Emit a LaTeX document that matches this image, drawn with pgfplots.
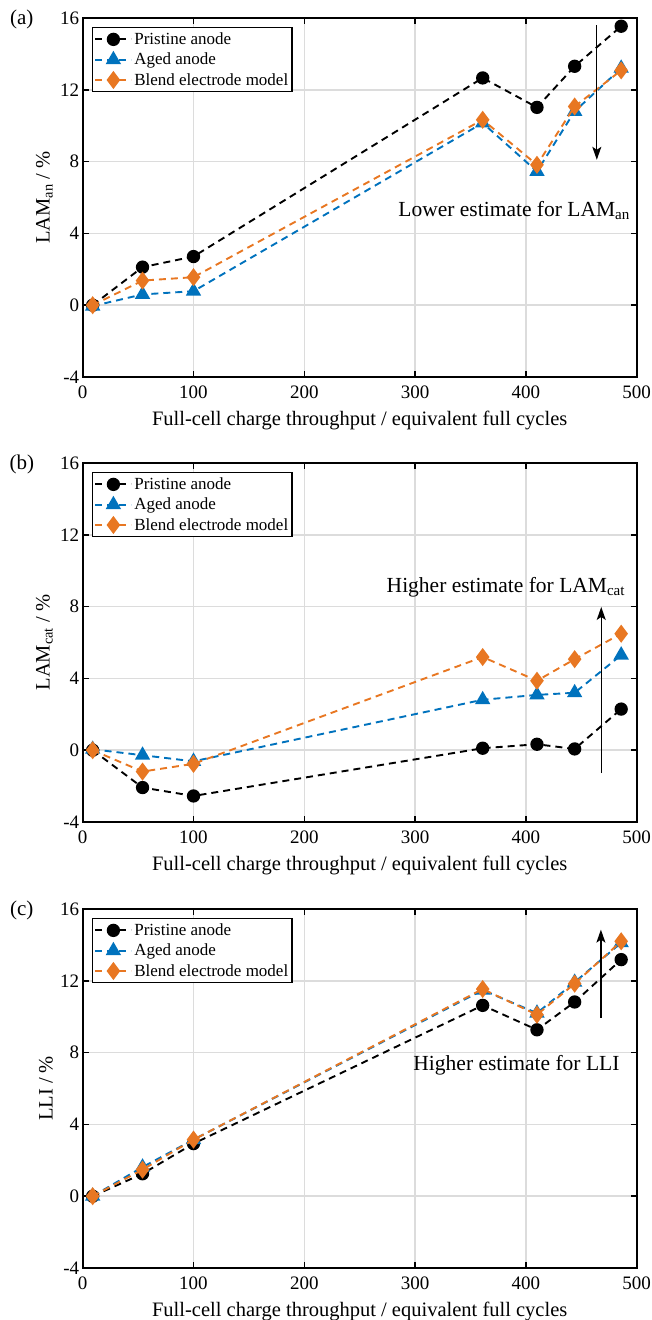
\documentclass[border=0pt]{standalone}
\usepackage{fontspec}
\setmainfont{Liberation Serif}
\usepackage{pgfplots}
\pgfplotsset{compat=1.18}
\usetikzlibrary{arrows.meta}

\definecolor{cblue}{RGB}{0,114,189}
\definecolor{corange}{RGB}{232,119,34}
\definecolor{gridgray}{RGB}{220,220,220}

\pgfplotsset{
 myaxis/.style={
  scale only axis, width=554pt, height=359pt,
  xmin=0,xmax=500,ymin=-4,ymax=16,
  xtick={0,100,...,500}, ytick={-4,0,4,8,12,16},
  tick align=inside, major tick length=6pt,
  every tick/.style={black, line width=1.5pt},
  axis line style={line width=2pt},
  grid=major, major grid style={gridgray, line width=1.5pt},
  clip mode=individual,
  /pgf/number format/assume math mode=true,
  tick label style={font=\fontsize{19}{22}\selectfont},
  xlabel={Full-cell charge throughput / equivalent full cycles},
  every axis x label/.style={at={(axis description cs:0.5,-0.12)}, anchor=center, font=\fontsize{20.5}{24}\selectfont},
  every axis y label/.style={at={(axis description cs:-0.0536,0.5)}, rotate=90, anchor=south, inner sep=0pt, font=\fontsize{20.5}{24}\selectfont},
  xticklabel style={yshift=-5pt},
  legend style={at={(0,1)}, anchor=north west, xshift=9pt, yshift=-9pt, draw=black, line width=1.5pt,
    font=\fontsize{17}{20}\selectfont, cells={anchor=west}, inner xsep=2pt, inner ysep=3pt, row sep=3pt},
  legend image code/.code={\draw[mark repeat=2,mark phase=2] plot coordinates {(0pt,0pt) (18pt,0pt) (36pt,0pt)};},
 },
 sP/.style={black, line width=1.9pt, dash pattern=on 7pt off 5pt, mark=*, mark size=5.7pt, mark options={solid, fill=black}},
 sA/.style={cblue, line width=1.9pt, dash pattern=on 7pt off 5pt, mark=triangle*, mark size=7pt, mark options={solid, fill=cblue}},
 sB/.style={corange, line width=1.9pt, dash pattern=on 7pt off 5pt, mark=diamond*, mark size=7.5pt, mark options={solid, fill=corange}},
}

\begin{document}
\begin{tikzpicture}
\path[use as bounding box] (0,0) rectangle (651pt,1320pt);

% (a)
\begin{axis}[myaxis, at={(82.7pt,943pt)}, anchor=south west, ylabel={LAM\textsubscript{an} / \%}]
\addplot[sP] coordinates {(9,0) (54,2.12) (100,2.71) (361,12.66) (410,11.02) (444,13.31) (486,15.54)};
\addplot[sA] coordinates {(9,-0.05) (54,0.6) (100,0.78) (361,10.15) (410,7.45) (444,10.8) (486,13.2)};
\addplot[sB] coordinates {(9,0) (54,1.37) (100,1.56) (361,10.33) (410,7.82) (444,11.07) (486,13.08)};
\legend{Pristine anode, Aged anode, Blend electrode model}
\draw[-{Stealth[length=13pt,width=9pt,inset=3pt]}, line width=1.3pt] (axis cs:464,15.6) -- (axis cs:464,8.1);
\node[anchor=base east, inner sep=0pt, font=\fontsize{21.5}{24}\selectfont] at (axis cs:494,4.94) {Lower estimate for LAM\textsubscript{an}};
\node[font=\fontsize{21}{24}\selectfont] at (axis description cs:-0.11,0.995) {(a)};
\end{axis}

% (b)
\begin{axis}[myaxis, at={(82.7pt,498pt)}, anchor=south west, ylabel={LAM\textsubscript{cat} / \%}]
\addplot[sP] coordinates {(9,0) (54,-2.08) (100,-2.55) (361,0.11) (410,0.33) (444,0.07) (486,2.29)};
\addplot[sA] coordinates {(9,0.05) (54,-0.28) (100,-0.62) (361,2.81) (410,3.08) (444,3.2) (486,5.3)};
\addplot[sB] coordinates {(9,0) (54,-1.19) (100,-0.76) (361,5.19) (410,3.87) (444,5.07) (486,6.49)};
\legend{Pristine anode, Aged anode, Blend electrode model}
\draw[-{Stealth[length=13pt,width=9pt,inset=3pt]}, line width=1.3pt] (axis cs:468,-1.28) -- (axis cs:468,7.98);
\node[anchor=base east, inner sep=0pt, font=\fontsize{21.5}{24}\selectfont] at (axis cs:489.7,8.79) {Higher estimate for LAM\textsubscript{cat}};
\node[font=\fontsize{21}{24}\selectfont] at (axis description cs:-0.11,0.995) {(b)};
\end{axis}

% (c)
\begin{axis}[myaxis, at={(82.7pt,52pt)}, anchor=south west, ylabel={LLI / \%}]
\addplot[sP] coordinates {(9,0) (54,1.25) (100,2.93) (361,10.63) (410,9.27) (444,10.82) (486,13.18)};
\addplot[sA] coordinates {(9,0) (54,1.62) (100,3.15) (361,11.48) (410,10.2) (444,11.92) (486,14.12)};
\addplot[sB] coordinates {(9,0) (54,1.48) (100,3.15) (361,11.54) (410,10.11) (444,11.84) (486,14.2)};
\legend{Pristine anode, Aged anode, Blend electrode model}
\draw[-{Stealth[length=13pt,width=9pt,inset=3pt]}, line width=1.3pt] (axis cs:467.7,9.93) -- (axis cs:467.7,14.85);
\node[anchor=base east, inner sep=0pt, font=\fontsize{21.5}{24}\selectfont] at (axis cs:484.6,7.0) {Higher estimate for LLI};
\node[font=\fontsize{21}{24}\selectfont] at (axis description cs:-0.11,0.995) {(c)};
\end{axis}
\end{tikzpicture}
\end{document}
